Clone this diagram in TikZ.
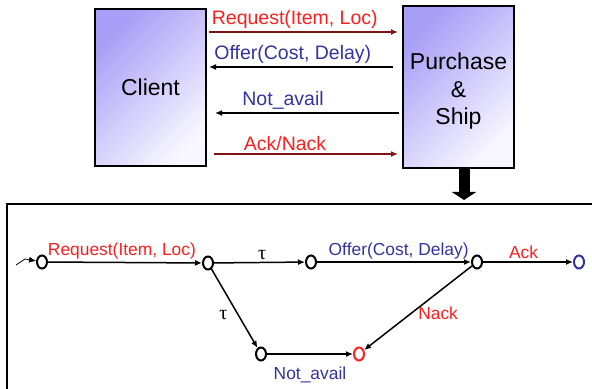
\documentclass[tikz,border=0pt]{standalone}
\usepackage{fontspec}
\setmainfont{Liberation Sans}
\newfontfamily\greekfont{Liberation Serif}
\usepackage{tikz}
\usetikzlibrary{arrows.meta}
\usetikzlibrary{shapes.geometric}
\definecolor{boxpurple}{RGB}{168,158,247}
\definecolor{boxwhite}{RGB}{248,247,255}
\definecolor{msgred}{RGB}{255,30,30}
\definecolor{msgblue}{RGB}{51,51,160}
\definecolor{arrowred}{RGB}{128,20,20}
\newcommand{\tauu}{{\greekfont\fontsize{10}{12}\selectfont τ}}

\begin{document}
\begin{tikzpicture}[x=0.5pt, y=-0.5pt, >={Latex[length=3.5pt,width=3pt]},
    proc/.style = {draw, line width=1pt, top color=boxpurple, bottom color=boxwhite, shading angle=45,
                   minimum width=55.5pt, inner sep=0pt, align=center, font=\fontsize{11.5}{13.75}\selectfont},
    msg/.style = {->, line width=0.75pt},
    lbl/.style = {inner sep=1.5pt, font=\fontsize{9.75}{12}\selectfont},
    main/.style = {draw, ellipse, line width=1pt, minimum width=5pt, minimum height=6.5pt, inner sep=0pt},
    edge/.style = {->, line width=0.75pt},
    elbl/.style = {inner sep=1.2pt, font=\fontsize{8.7}{10}\selectfont}]
    \useasboundingbox (0,0) rectangle (592,389);

    % Boxes
    \node[proc, minimum height=78.5pt] (c) at (150.5,87.5) {Client};
    \node[proc, minimum height=81pt] (p) at (458.5,87)
      {\raisebox{-2.5pt}[\height][\depth]{\begin{tabular}{@{}c@{}}Purchase\\\&\\Ship\end{tabular}}};

    % Messages
    \draw[msg, arrowred, shorten <=1pt, shorten >=2pt] (c.east |- 0,32) to node[lbl, above, pos=0.45, msgred] {Request(Item, Loc)} (p.west |- 0,32);
    \draw[msg, shorten <=4.5pt, shorten >=1pt] (p.west |- 0,67) to node[lbl, above, pos=0.56, msgblue] {Offer(Cost, Delay)} (c.east |- 0,67);
    \draw[msg, shorten <=1.5pt, shorten >=4pt] (p.west |- 0,113) to node[lbl, above, pos=0.61, msgblue] {Not\_avail} (c.east |- 0,113);
    \draw[msg, arrowred, shorten <=3.5pt, shorten >=2pt] (c.east |- 0,154) to node[lbl, above, pos=0.4, msgred] {Ack/Nack} (p.west |- 0,154);

    % Refinement arrow
    \coordinate (t) at (464,200);
    \draw[line width=5.5pt, -{Triangle[length=4pt,width=12pt]}] (p.south -| t) -- (t);

    % Frame
    \draw[line width=1pt] (7,389) |- (592,204);

    % States
    \node[main] (1) at (42,262) {};
    \node[main] (2) at (208,263) {};
    \node[main] (3) at (311,262) {};
    \node[main] (4) at (477,262) {};
    \node[main, draw=msgblue] (5) at (579,262) {};
    \node[main] (6) at (261,354) {};
    \node[main, draw=msgred] (7) at (359,354) {};

    % Transitions
    \coordinate (0) at (16,265);
    \draw[->, line width=0.4pt] (0) -- (25,259) -- (1);
    \draw[edge] (1) to node[elbl, pos=0.48, above, msgred] {Request(Item, Loc)} (2);
    \draw[edge] (2) to node[elbl, pos=0.53, above] {\tauu} (3);
    \draw[edge] (3) to node[elbl, pos=0.53, above, msgblue] {Offer(Cost, Delay)} (4);
    \draw[edge] (4) to node[elbl, pos=0.45, above, msgred] {Ack} (5);
    \draw[edge] (2) to node[elbl, pos=0.58, left, inner sep=5pt] {\tauu} (6);
    \draw[edge] (4) to node[elbl, pos=0.56, right, inner sep=3pt, msgred] {Nack} (7);
    \draw[edge] (6) to node[elbl, midway, below, msgblue, yshift=-5pt] {Not\_avail} (7);

\end{tikzpicture}
\end{document}
